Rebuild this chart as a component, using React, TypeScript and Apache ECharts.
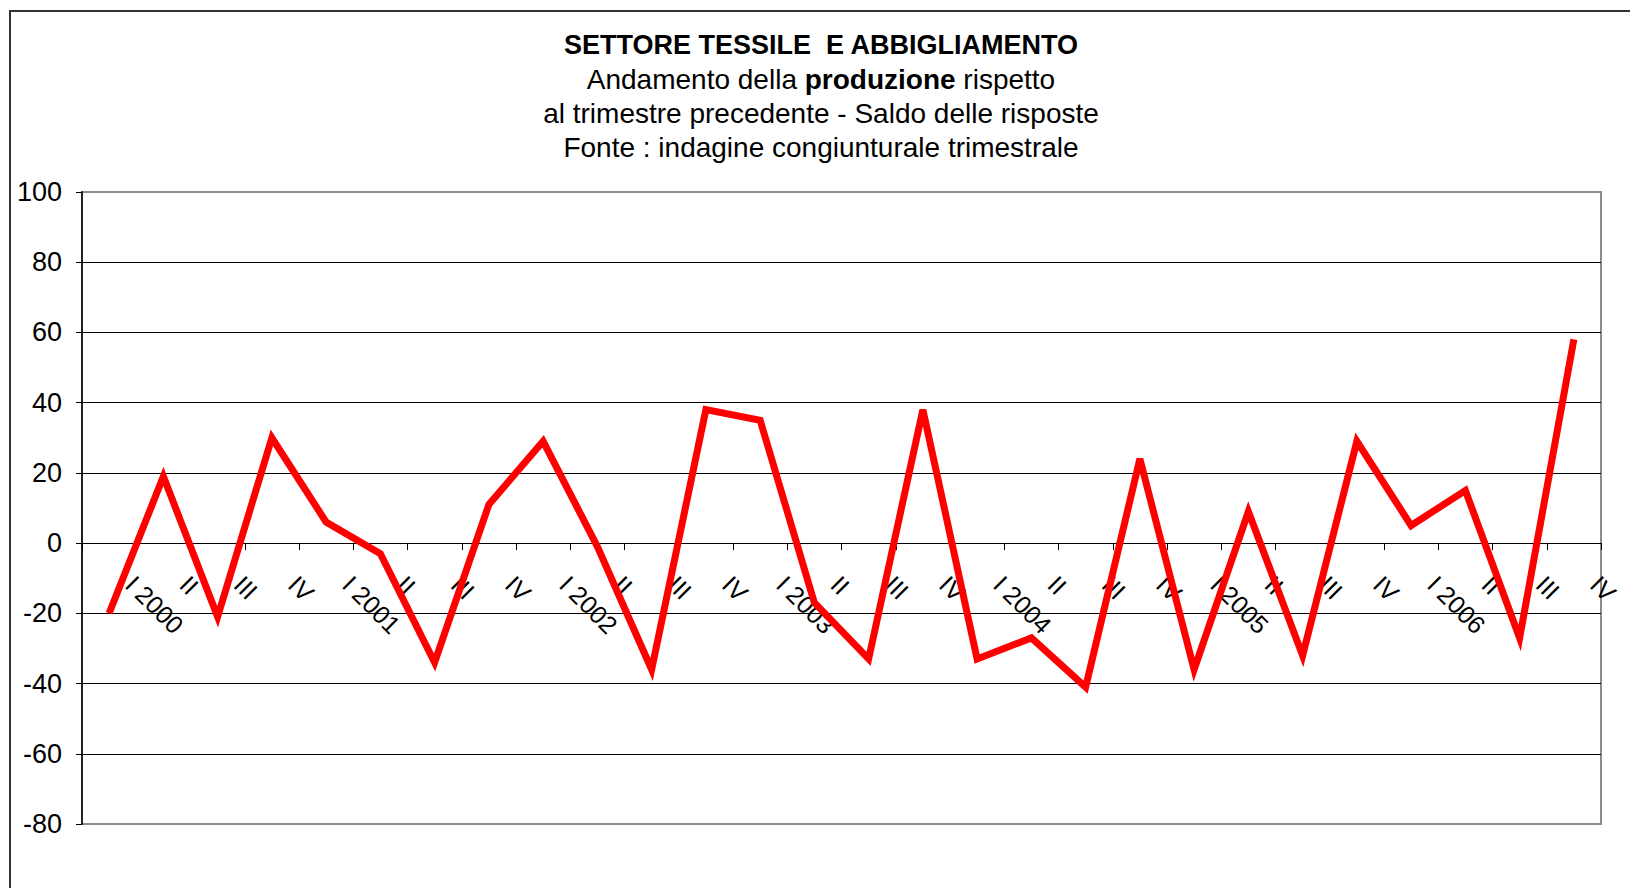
import React, { useEffect, useRef } from "react";
import * as echarts from "echarts";

const categories = [
  "I 2000", "II", "III", "IV",
  "I 2001", "II", "III", "IV",
  "I 2002", "II", "III", "IV",
  "I 2003", "II", "III", "IV",
  "I 2004", "II", "III", "IV",
  "I 2005", "II", "III", "IV",
  "I 2006", "II", "III", "IV",
];

const produzione = [
  -20, 19, -21, 30,
  6, -3, -34, 11,
  29, -1, -36, 38,
  35, -17, -33, 38,
  -33, -27, -41, 24,
  -36, 9, -32, 29,
  5, 15, -27, 58,
];

const titleText = "SETTORE TESSILE  E ABBIGLIAMENTO";
const subLine1 = ["Andamento della ", "produzione", " rispetto"];
const subLine2 = "al trimestre precedente - Saldo delle risposte";
const subLine3 = "Fonte : indagine congiunturale trimestrale";

const FONT = "'Liberation Sans', Arial, sans-serif";

export default function App() {
  const ref = useRef<HTMLDivElement>(null);

  useEffect(() => {
    if (!ref.current) return;
    const chart = echarts.init(ref.current, null, { renderer: "svg" });
    const cx = 821;
    chart.setOption({
      animation: false,
      backgroundColor: "#ffffff",
      graphic: [
        {
          type: "rect",
          shape: { x: 10, y: 11, width: 1700, height: 1000 },
          style: { fill: "none", stroke: "#333", lineWidth: 2 },
          silent: true,
        },
        {
          type: "text",
          x: cx,
          y: 45,
          style: {
            text: titleText,
            fontFamily: FONT,
            fontSize: 27,
            fontWeight: "bold",
            fill: "#000",
            align: "center",
            verticalAlign: "middle",
          },
        },
        {
          type: "text",
          x: cx,
          y: 79,
          style: {
            text: `{n|${subLine1[0]}}{b|${subLine1[1]}}{n|${subLine1[2]}}`,
            rich: {
              n: { fontFamily: FONT, fontSize: 28, fill: "#000" },
              b: { fontFamily: FONT, fontSize: 28, fontWeight: "bold", fill: "#000" },
            },
            align: "center",
            verticalAlign: "middle",
          },
        },
        {
          type: "text",
          x: cx,
          y: 113,
          style: {
            text: subLine2,
            fontFamily: FONT,
            fontSize: 28,
            fill: "#000",
            align: "center",
            verticalAlign: "middle",
          },
        },
        {
          type: "text",
          x: cx,
          y: 147,
          style: {
            text: subLine3,
            fontFamily: FONT,
            fontSize: 28,
            fill: "#000",
            align: "center",
            verticalAlign: "middle",
          },
        },
      ],
      grid: {
        left: 82,
        right: 29,
        top: 192,
        bottom: 64,
        containLabel: false,
        outerBoundsMode: "none",
        show: true,
        borderColor: "#8c8c8c",
        borderWidth: 2,
        backgroundColor: "transparent",
      },
      xAxis: {
        type: "category",
        data: categories,
        boundaryGap: true,
        axisLine: { show: true, onZero: true, lineStyle: { color: "#000", width: 1 } },
        axisTick: { show: true, interval: 0, length: 7, lineStyle: { color: "#000" } },
        axisLabel: { show: false },
        splitLine: { show: false },
      },
      yAxis: {
        type: "value",
        min: -80,
        max: 100,
        interval: 20,
        axisLine: { show: true, lineStyle: { color: "#222", width: 2 } },
        axisTick: { show: true, length: 6, lineStyle: { color: "#000" } },
        axisLabel: {
          margin: 20,
          fontFamily: FONT,
          fontSize: 27,
          color: "#000",
        },
        splitLine: {
          show: true,
          lineStyle: {
            color: [
              "#8c8c8c", "#000", "#000", "#000", "#000",
              "#000", "#000", "#000", "#000", "#8c8c8c",
            ],
            width: 1,
          },
        },
      },
      series: [
        {
          type: "custom",
          coordinateSystem: "cartesian2d",
          clip: false,
          silent: true,
          data: categories.map((_, i) => [i, 0]),
          encode: { x: 0, y: 1 },
          z: 1,
          renderItem: (params: any, api: any) => {
            const p = api.coord([api.value(0), api.value(1)]);
            return {
              type: "text",
              x: p[0] + 21,
              y: p[1] + 37,
              rotation: -Math.PI / 4,
              style: {
                text: categories[params.dataIndex],
                fontFamily: FONT,
                fontSize: 25,
                fill: "#000",
                align: "left",
                verticalAlign: "middle",
              },
            };
          },
        },
        {
          type: "line",
          data: produzione,
          symbol: "none",
          z: 3,
          lineStyle: { color: "#ff0000", width: 7, join: "miter" },
          itemStyle: { color: "#ff0000" },
        },
      ],
    });
    return () => chart.dispose();
  }, []);

  return (
    <div
      ref={ref}
      style={{ position: "fixed", left: 0, top: 0, width: 1630, height: 888 }}
    />
  );
}
